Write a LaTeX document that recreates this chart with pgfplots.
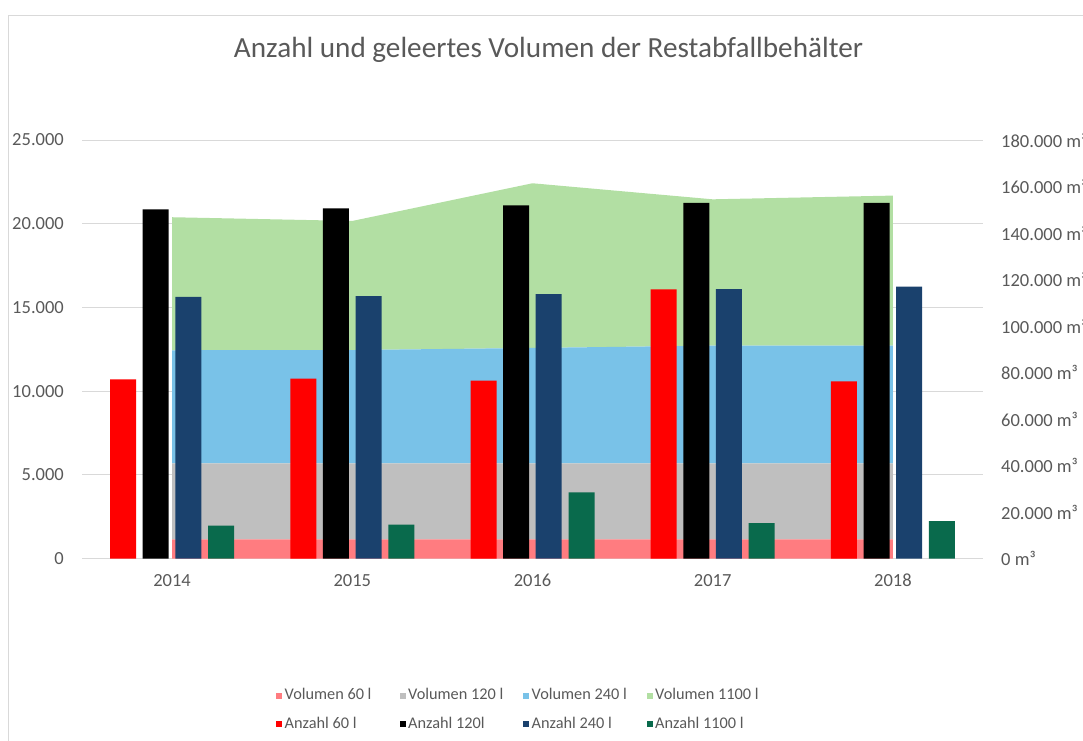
\documentclass[border=0pt]{standalone}
\usepackage{pgfplots}
\pgfplotsset{compat=1.18}
\usepackage{fontspec}
\setmainfont{Carlito}
\definecolor{txtgray}{HTML}{595959}
\definecolor{gridgray}{HTML}{D9D9D9}
\definecolor{vsixty}{HTML}{FF7C80}
\definecolor{vonetwenty}{HTML}{BFBFBF}
\definecolor{vtwoforty}{HTML}{79C2E8}
\definecolor{veleven}{HTML}{B2DFA3}
\definecolor{anavy}{HTML}{1A416D}
\definecolor{agreen}{HTML}{096A4C}
\newcommand{\legbox}[1]{\makebox[115pt][l]{#1}}
\pgfplotsset{
  sq legend/.style={legend image code/.code={\fill[##1, draw=none] (0pt,-3pt) rectangle (6pt,3pt);}},
  base/.style={at={(82pt,181.3pt)}, anchor=south west, scale only axis,
    width=901pt, height=418.7pt, xmin=-0.5, xmax=4.5,
    /pgf/number format/fixed,
    /pgf/number format/1000 sep={.}, /pgf/number format/assume math mode=true},
}
\begin{document}
\begin{tikzpicture}[x=1pt,y=1pt]
\useasboundingbox (0,0) rectangle (1083,740);
\draw[gridgray, line width=1.5pt] (8.7,-5) -- (8.7,724.5) -- (1095,724.5);
\node[text=txtgray, font=\fontsize{29.2}{32}\selectfont] at (548.5,690.5) {Anzahl und geleertes Volumen der Restabfallbehälter};

% axis 1: grid, left labels, x labels
\begin{axis}[base, ymin=0, ymax=25000,
  ytick={0,5000,...,25000}, ymajorgrids,
  grid style={draw=gridgray, line width=1pt},
  axis line style={draw=none}, major tick length=0pt,
  xtick={0,1,2,3,4}, xticklabels={2014,2015,2016,2017,2018},
  ticklabel style={font=\fontsize{18.5}{20}\selectfont, text=txtgray},
  yticklabel style={inner sep=0pt, anchor=east, xshift=-18pt},
  xticklabel style={inner sep=0pt, anchor=north, text height=11pt, text depth=0pt, yshift=-16.8pt},
  scaled y ticks=false]
\addplot[draw=none] coordinates {(0,0)};
\end{axis}

% axis 2: stacked volumes, right axis
\begin{axis}[base, ymin=0, ymax=180000, stack plots=y,
  axis x line=none, axis y line*=right, axis line style={draw=none},
  major tick length=0pt,
  ytick={0,20000,...,180000}, scaled y ticks=false,
  yticklabel={\pgfmathprintnumber{\tick}~m³},
  yticklabel style={font=\fontsize{18.5}{20}\selectfont, text=txtgray, inner sep=0pt, anchor=west, xshift=18pt}]
\addplot[fill=vsixty, draw=none] coordinates {(0,8300) (1,8300) (2,8300) (3,8300) (4,8300)} \closedcycle;
\addplot[fill=vonetwenty, draw=none] coordinates {(0,32700) (1,32700) (2,32700) (3,32700) (4,32700)} \closedcycle;
\addplot[fill=vtwoforty, draw=none] coordinates {(0,48600) (1,48700) (2,49600) (3,50600) (4,50600)} \closedcycle;
\addplot[fill=veleven, draw=none] coordinates {(0,57200) (1,55500) (2,70800) (3,62900) (4,64500)} \closedcycle;
\end{axis}

% axis 3: bars + legend
\begin{axis}[base, ymin=0, ymax=25000, hide axis,
  legend columns=4,
  legend style={at={(0,0)}, anchor=north west, xshift=194pt, yshift=-129pt,
    draw=none, fill=none, inner sep=0pt, column sep=0pt, row sep=12.5pt,
    /tikz/every odd column/.append style={column sep=2.5pt},
    font=\fontsize{16.3}{18}\selectfont, text=txtgray,
    nodes={inner xsep=0pt, inner ysep=0pt, text height=12pt, text depth=4pt}}]
\addlegendimage{sq legend, fill=vsixty}
\addlegendentry{\legbox{Volumen 60 l}}
\addlegendimage{sq legend, fill=vonetwenty}
\addlegendentry{\legbox{Volumen 120 l}}
\addlegendimage{sq legend, fill=vtwoforty}
\addlegendentry{\legbox{Volumen 240 l}}
\addlegendimage{sq legend, fill=veleven}
\addlegendentry{\legbox{Volumen 1100 l}}
\addplot[ybar, bar width=26pt, bar shift=-49pt, fill=red, draw=none, sq legend]
  coordinates {(0,10710) (1,10750) (2,10630) (3,16080) (4,10590)};
\addlegendentry{\legbox{Anzahl 60 l}}
\addplot[ybar, bar width=26pt, bar shift=-16.4pt, fill=black, draw=none, sq legend]
  coordinates {(0,20860) (1,20920) (2,21100) (3,21250) (4,21250)};
\addlegendentry{\legbox{Anzahl 120l}}
\addplot[ybar, bar width=26pt, bar shift=16.2pt, fill=anavy, draw=none, sq legend]
  coordinates {(0,15640) (1,15680) (2,15800) (3,16100) (4,16240)};
\addlegendentry{\legbox{Anzahl 240 l}}
\addplot[ybar, bar width=26pt, bar shift=49pt, fill=agreen, draw=none, sq legend]
  coordinates {(0,1970) (1,2030) (2,3960) (3,2130) (4,2250)};
\addlegendentry{\legbox{Anzahl 1100 l}}
\end{axis}
\end{tikzpicture}
\end{document}
